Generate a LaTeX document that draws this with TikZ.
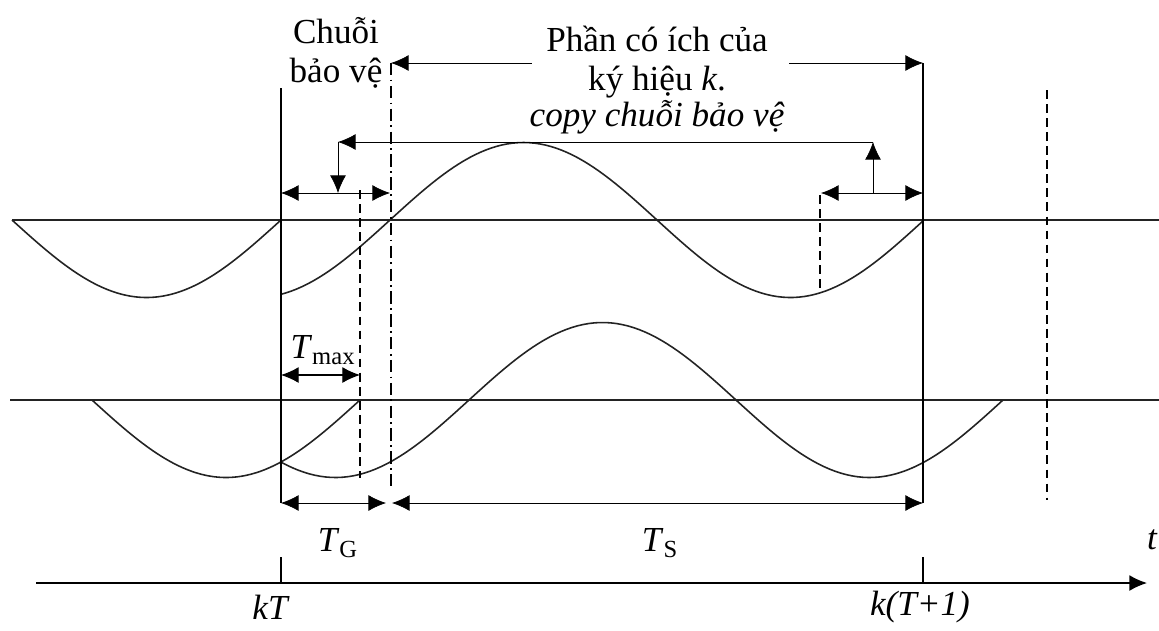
\documentclass[tikz,border=0pt]{standalone}
\usepackage{fontspec}
\setmainfont{Liberation Serif}
\usepackage{tikz}
\usetikzlibrary{arrows.meta, positioning}
\usepackage{xcolor}
\definecolor{inkGray}{RGB}{35,35,35}

\begin{document}
\begin{tikzpicture}[
    x=0.02cm, y=-0.02cm,
    lbl/.style={inner sep=0pt, align=center, font=\fontsize{20}{22.5}\selectfont},
    itlbl/.style={inner sep=0pt, font=\fontsize{20}{22.5}\selectfont\itshape},
    base/.style={line width=0.7pt, inkGray},
    wave/.style={line width=0.9pt, inkGray},
    dsh/.style={line width=1pt, dash pattern=on 5pt off 3pt},
    dshdot/.style={line width=0.9pt, dash pattern=on 7pt off 2.5pt on 1pt off 2.5pt},
    >={Latex[length=10pt, width=9pt]}
]
\useasboundingbox (0,0) rectangle (1159,630);

% base lines of the two signals
\draw[base] (12,220) -- (1159,220);
\draw[base] (10,400) -- (1159,400);

% signals
\draw[wave] plot[domain=12:281, samples=60] (\x, {220 + 77.5*sin((\x-12)/269*180)});
\draw[wave] plot[domain=281:923, samples=120] (\x, {220 - 77.5*sin((\x-390)/267*180)});
\draw[wave] plot[domain=92:360, samples=60] (\x, {400 + 77.5*sin((\x-92)/268*180)});
\draw[wave] plot[domain=281:1003, samples=130] (\x, {400 - 77.5*sin((\x-469)/267*180)});

% symbol borders
\coordinate (kTtop) at (281,88);
\coordinate (kTbot) at (281,503);
\coordinate (kT1top) at (923,63);
\coordinate (kT1bot) at (923,503);
\coordinate (gEtop) at (391,63);
\coordinate (gEbot) at (392,503);
\draw[line width=1pt] (kTtop) -- (kTbot);
\draw[line width=1pt] (kT1top) -- (kT1bot);
\draw[dshdot] (gEtop) -- (391,490);
\draw[dsh] (360,190) -- (360,478);
\draw[dsh] (820,195) -- (820,292);
\draw[dsh] (1047,90) -- (1047,500);

% texts
\node[lbl] (chuoi) at (336,53) {Chuỗi\\bảo vệ};
\node[lbl] (phan) at (657,62) {Phần có ích của\\ký hiệu \textit{k}.};
\node[itlbl] (copy) at (657,117) {copy chuỗi bảo vệ};
\node[lbl] (tmax) at (323,350) {\textit{T}\textsubscript{max}};
\node[lbl] (tg) at (338,543) {\textit{T}\textsubscript{G}};
\node[lbl] (ts) at (660,543) {\textit{T}\textsubscript{S}};
\node[itlbl] (t) at (1152,540) {t};
\node[itlbl] (kt) at (270,607) {kT};
\node[itlbl] (kt1) at (920,607) {k(T+1)};

% useful part arrows
\draw[->] ([xshift=-8pt]phan.west |- gEtop) -- (gEtop);
\draw[->] ([xshift=12pt]phan.east |- kT1top) -- (kT1top);

% guard copy
\coordinate (gL) at (338,193);
\coordinate (gR) at (873,193);
\coordinate (cL) at (338,142);
\coordinate (cR) at (873,142);
\draw[<->] (281,193) -- (390,193);
\draw[<->] (821,193) -- (923,193);
\draw[->] (gR) -- (cR);
\draw[->] (cR) -- (cL);
\draw[->] (cL) -- (gL);

% delay
\draw[<->, line width=0.6pt] (281,375) -- (360,375);

% durations
\draw[<->] (kTbot) -- (386,503);
\draw[<->] (gEbot) -- (kT1bot);

% time axis
\coordinate (ax0) at (36,583);
\coordinate (ax1) at (1147,583);
\draw[->, line width=0.8pt] (ax0) -- (ax1);
\draw[line width=0.8pt] (281,557) -- (281,583);
\draw[line width=0.8pt] (923,557) -- (923,583);
\end{tikzpicture}
\end{document}
